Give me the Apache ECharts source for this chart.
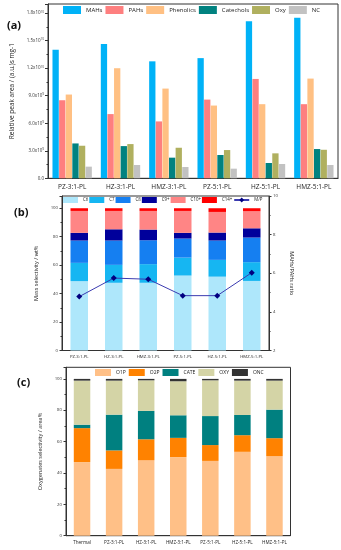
<!DOCTYPE html>
<html><head><meta charset="utf-8">
<script src="https://cdn.jsdelivr.net/npm/echarts@6/dist/echarts.min.js"></script>
<style>html,body{margin:0;padding:0;background:#fff}#c{width:341px;height:550px}</style>
</head><body><div id="c"></div>
<script>
// ---------- Panel (a): relative peak area (units of 1e9) ----------
const catsA = ['PZ-3:1-PL','HZ-3:1-PL','HMZ-3:1-PL','PZ-5:1-PL','HZ-5:1-PL','HMZ-5:1-PL'];
const namesA = ['MAHs','PAHs','Phenolics','Catechols','Oxy','NC'];
const MAHs      = [14.0, 14.63, 12.75, 13.1, 17.13, 17.49];
const PAHs      = [8.51, 7.0, 6.2, 8.58, 10.83, 8.08];
const Phenolics = [9.13, 12.0, 9.78, 7.93, 8.08, 10.87];
const Catechols = [3.8, 3.51, 2.25, 2.54, 1.67, 3.19];
const Oxy       = [3.55, 3.73, 3.33, 3.08, 2.72, 3.11];
const NC        = [1.27, 1.45, 1.23, 1.05, 1.56, 1.45];
const yTicksA   = [0, 3, 6, 9, 12, 15, 18];

// ---------- Panel (b): mass selectivity (wt%) and M/P ----------
const catsB = ['PZ-3:1-PL','HZ-3:1-PL','HMZ-3:1-PL','PZ-5:1-PL','HZ-5:1-PL','HMZ-5:1-PL'];
const namesB = ['C6','C7','C8','C9+','C10+','C14+','M/P'];
const C6   = [48.8, 47.6, 47.6, 52.7, 51.9, 48.9];
const C7   = [12.8, 12.6, 13.1, 12.6, 11.8, 13.2];
const C8   = [15.7, 17.1, 16.8, 13.4, 13.6, 17.3];
const C9p  = [5.4, 7.9, 7.5, 4.0, 5.6, 6.5];
const C10p = [15.4, 12.9, 13.1, 15.4, 14.5, 12.0];
const C14p = [1.9, 1.9, 1.9, 1.9, 2.6, 2.1];
const MP   = [4.79, 5.75, 5.69, 4.84, 4.84, 6.03];

// ---------- Panel (c): oxygenates selectivity (area%) ----------
const catsC = ['Thermal','PZ-3:1-PL','HZ-3:1-PL','HMZ-3:1-PL','PZ-5:1-PL','HZ-5:1-PL','HMZ-5:1-PL'];
const namesC = ['O1P','O2P','CATE','OXY','ONC'];
const O1P  = [46.9, 42.6, 48.2, 50.1, 47.7, 53.5, 50.8];
const O2P  = [21.7, 11.8, 13.3, 12.3, 10.1, 10.6, 11.4];
const CATE = [2.2, 22.8, 18.1, 14.4, 18.5, 12.9, 18.2];
const OXY  = [28.1, 21.7, 19.5, 21.7, 22.8, 21.9, 18.5];
const ONC  = [1.1, 1.1, 0.9, 1.5, 0.9, 1.1, 1.1];

const FONT = 'Open Sans';
const AX = '#333';
const chart = echarts.init(document.getElementById('c'), null, {renderer:'canvas'});

function yLabA(v){
  if (v === 0) return '{m|0.0}';
  if (v >= 10) return '{m|' + (v/10).toFixed(1) + 'x10}{e|10}';
  return '{m|' + v.toFixed(1) + 'x10}{e|9}';
}
const axLine = {show:true, lineStyle:{color:AX, width:1}};

const colsA = ['#00b2f7','#fe7f7f','#ffc083','#018280','#b0b05f','#c2c2c2'];
const dataA = [MAHs, PAHs, Phenolics, Catechols, Oxy, NC];
const colsB = ['#aee7fb','#16b6f2','#157ff1','#00009b','#ff8585','#ff0000'];
const dataB = [C6, C7, C8, C9p, C10p, C14p];
const colsC = ['#ffc087','#ff8200','#008080','#d4d4a6','#333333'];
const dataC = [O1P, O2P, CATE, OXY, ONC];

const series = [];
namesA.forEach((n,i)=>series.push({name:n, type:'bar', xAxisIndex:0, yAxisIndex:0, data:dataA[i],
  barWidth:6.3, barGap:'5%', itemStyle:{color:colsA[i]}}));
namesB.slice(0,6).forEach((n,i)=>series.push({name:n, type:'bar', stack:'b', xAxisIndex:1, yAxisIndex:1, data:dataB[i],
  barWidth:17.5, itemStyle:{color:colsB[i]}}));
series.push({name:'M/P', type:'line', xAxisIndex:1, yAxisIndex:2, data:MP, symbol:'diamond', symbolSize:6,
  lineStyle:{color:'#3b3bb0', width:1}, itemStyle:{color:'#000080'}, z:5});
namesC.forEach((n,i)=>series.push({name:n, type:'bar', stack:'c', xAxisIndex:2, yAxisIndex:3, data:dataC[i],
  barWidth:16.5, itemStyle:{color:colsC[i]}}));

const legA = namesA.map(n=>({name:n, icon:'rect'}));
const legB = namesB.map(n=> n==='M/P' ? {name:n} : {name:n, icon:'rect'});
const legC = namesC.map(n=>({name:n, icon:'rect'}));

const option = {
  animation:false,
  textStyle:{fontFamily:FONT},
  title:[
    {text:'(a)', left:2, top:15, textStyle:{fontSize:11, fontWeight:'bold', color:'#111', fontFamily:FONT}},
    {text:'(b)', left:9, top:202, textStyle:{fontSize:11, fontWeight:'bold', color:'#111', fontFamily:FONT}},
    {text:'(c)', left:12, top:372, textStyle:{fontSize:11, fontWeight:'bold', color:'#111', fontFamily:FONT}}
  ],
  legend:[
    {data:legA, left:63, top:6, itemWidth:18, itemHeight:8, itemGap:3, padding:0,
      textStyle:{fontSize:6, color:'#222'}},
    {data:legB, left:63, top:197, itemWidth:15, itemHeight:6, itemGap:1, padding:0,
      textStyle:{fontSize:4.4, color:'#222'}},
    {data:legC, left:95, top:369, itemWidth:16, itemHeight:7, itemGap:3, padding:0,
      textStyle:{fontSize:5, color:'#222'}}
  ],
  grid:[
    {left:48, right:3, top:4, height:174.3, show:true, borderColor:AX, borderWidth:1, containLabel:false},
    {left:62, right:72, top:196, height:154.5, show:true, borderColor:AX, borderWidth:1},
    {left:66, right:50.5, top:367.3, height:168.4, show:true, borderColor:AX, borderWidth:1}
  ],
  xAxis:[
    {type:'category', gridIndex:0, data:catsA, axisLine:axLine,
      axisTick:{alignWithLabel:true, length:3, lineStyle:{color:AX}},
      axisLabel:{fontSize:6.5, color:'#222', margin:5, interval:0}},
    {type:'category', gridIndex:1, data:catsB, axisLine:axLine,
      axisTick:{alignWithLabel:true, length:2.5, lineStyle:{color:AX}},
      axisLabel:{fontSize:4.3, color:'#222', margin:4, interval:0}},
    {type:'category', gridIndex:2, data:catsC, axisLine:axLine,
      axisTick:{alignWithLabel:true, length:2.5, lineStyle:{color:AX}},
      axisLabel:{fontSize:4.6, color:'#222', margin:4, interval:0}}
  ],
  yAxis:[
    {type:'value', gridIndex:0, min:0, max:19, interval:3, axisLine:axLine,
      axisTick:{show:true, length:3, lineStyle:{color:AX}},
      minorTick:{show:true, splitNumber:2, length:1.5, lineStyle:{color:AX}},
      splitLine:{show:false},
      axisLabel:{formatter:yLabA, showMaxLabel:false, fontSize:4.5, color:'#333', margin:4,
        rich:{m:{fontSize:4.5, color:'#333'}, e:{fontSize:3, color:'#333', verticalAlign:'top', padding:[0,0,3,0]}}},
      name:'Relative peak area / (a.u.)s mg-1', nameLocation:'middle', nameGap:31,
      nameTextStyle:{fontSize:6.5, color:'#222'}},
    {type:'value', gridIndex:1, min:0, max:108.6, interval:20, axisLine:axLine,
      axisTick:{show:true, length:2.5, lineStyle:{color:AX}},
      minorTick:{show:true, splitNumber:2, length:1.5, lineStyle:{color:AX}},
      splitLine:{show:false},
      axisLabel:{fontSize:4.3, color:'#333', margin:4, showMaxLabel:false,
        formatter:v=> (v%20===0 ? String(v) : '')},
      name:'Mass selectivity / wt%', nameLocation:'middle', nameGap:17,
      nameTextStyle:{fontSize:5.5, color:'#222'}},
    {type:'value', gridIndex:1, min:2, max:10, interval:2, position:'right', axisLine:axLine,
      axisTick:{show:true, length:2.5, lineStyle:{color:AX}},
      minorTick:{show:true, splitNumber:2, length:1.5, lineStyle:{color:AX}},
      splitLine:{show:false},
      axisLabel:{fontSize:4.3, color:'#333', margin:4},
      name:'MAHs/PAHs ratio', nameLocation:'middle', nameGap:17, nameRotate:-90,
      nameTextStyle:{fontSize:5.5, color:'#222'}},
    {type:'value', gridIndex:2, min:0, max:107.4, interval:20, axisLine:axLine,
      axisTick:{show:true, length:2.5, lineStyle:{color:AX}},
      minorTick:{show:true, splitNumber:2, length:1.5, lineStyle:{color:AX}},
      splitLine:{show:false},
      axisLabel:{fontSize:4.3, color:'#333', margin:4, showMaxLabel:false,
        formatter:v=> (v%20===0 ? String(v) : '')},
      name:'Oxygenates selectivity / area%', nameLocation:'middle', nameGap:19,
      nameTextStyle:{fontSize:5.5, color:'#222'}}
  ],
  series:series
};
chart.setOption(option);
</script></body></html>
